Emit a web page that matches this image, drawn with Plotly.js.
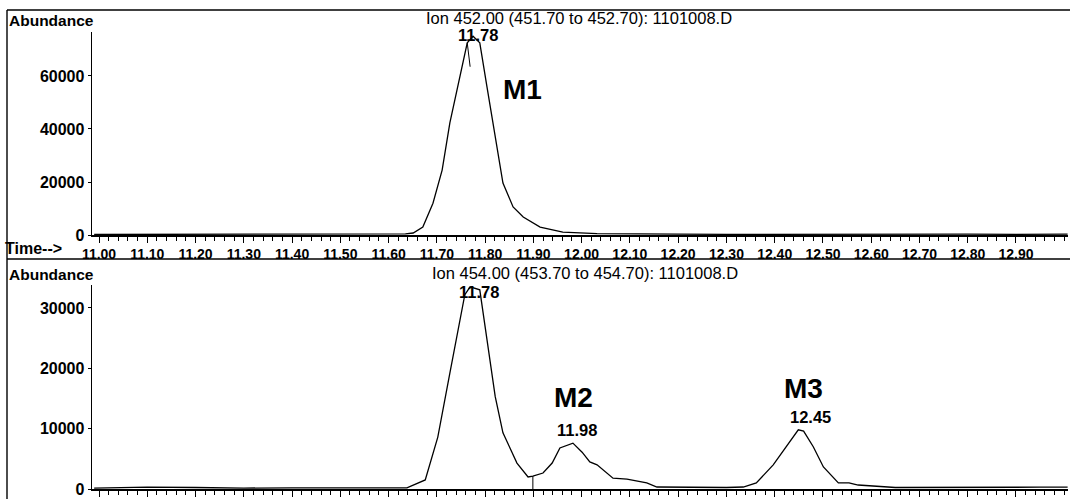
<!DOCTYPE html>
<html>
<head>
<meta charset="utf-8">
<script src="https://cdn.plot.ly/plotly-3.0.1.min.js"></script>
<style>
html,body{margin:0;padding:0;background:#fff;}
#chart{width:1070px;height:499px;}
</style>
</head>
<body>
<div id="chart"></div>
<script>
// ---- data ----
var topTime = [10.99, 11.10, 11.20, 11.30, 11.40, 11.50, 11.60, 11.635, 11.651, 11.671, 11.692, 11.711, 11.727, 11.748, 11.763, 11.775, 11.789, 11.804, 11.821, 11.837, 11.858, 11.879, 11.914, 11.961, 12.032, 12.10, 12.20, 12.30, 12.40, 12.50, 12.60, 12.70, 12.80, 12.90, 13.007];
var topAbund = [200, 250, 200, 300, 250, 200, 300, 400, 750, 3000, 12000, 24500, 42300, 59600, 72500, 75000, 72500, 55800, 37000, 19600, 10600, 6800, 3000, 1100, 500, 350, 300, 250, 300, 250, 300, 250, 300, 250, 300];

var botTime = [10.99, 11.10, 11.20, 11.30, 11.40, 11.50, 11.60, 11.638, 11.676, 11.702, 11.727, 11.748, 11.758, 11.769, 11.789, 11.804, 11.821, 11.837, 11.866, 11.889, 11.899, 11.920, 11.939, 11.955, 11.982, 12.001, 12.017, 12.032, 12.065, 12.094, 12.135, 12.156, 12.20, 12.25, 12.30, 12.335, 12.362, 12.397, 12.424, 12.449, 12.460, 12.480, 12.501, 12.532, 12.554, 12.573, 12.65, 12.75, 12.85, 12.95, 13.007];
var botAbund = [150, 300, 250, 150, 200, 150, 100, 170, 1500, 8600, 19200, 28000, 32200, 33500, 33000, 24700, 15300, 9300, 4300, 2000, 2150, 2650, 4300, 6800, 7600, 6100, 4500, 4000, 1800, 1650, 1000, 330, 300, 200, 250, 330, 1000, 4000, 7000, 9800, 9600, 7000, 3650, 1000, 1000, 660, 250, 300, 250, 300, 300];

var xTickVals = [11.0, 11.1, 11.2, 11.3, 11.4, 11.5, 11.6, 11.7, 11.8, 11.9, 12.0, 12.1, 12.2, 12.3, 12.4, 12.5, 12.6, 12.7, 12.8, 12.9];
var topTickLabels = ['11.00','11.10','11.20','11.30','11.40','11.50','11.60','11.70','11.80','11.90','12.00','12.10','12.20','12.30','12.40','12.50','12.60','12.70','12.80','12.90'];
var botTickLabels = ['','','','','','','','','','11.90','12.00','12.10','12.20','12.30','12.40','12.50','12.60','12.70','12.80','12.90'];
var topYTicks = [0, 20000, 40000, 60000];
var botYTicks = [0, 10000, 20000, 30000];

var topTitle = 'Ion 452.00 (451.70 to 452.70): 1101008.D';
var botTitle = 'Ion 454.00 (453.70 to 454.70): 1101008.D';
var peakTop = {label: '11.78', name: 'M1'};
var peaksBot = [
  {label: '11.78'},
  {label: '11.98', name: 'M2'},
  {label: '12.45', name: 'M3'}
];
var dropLineTime = 11.899, dropLineAbund = 2150;
var apexMarkTime = [11.763, 11.769], apexMarkAbund = [72500, 63500];

// ---- geometry helpers (pixels -> paper) ----
var W = 1070, H = 499;
function px(x){ return x / W; }
function py(y){ return 1 - y / H; }

var FONT = 'Liberation Sans, Arial, sans-serif';
var lineStyle = {color: '#000', width: 1.3, shape: 'linear'};

var traces = [
  {x: topTime, y: topAbund, type: 'scatter', mode: 'lines', line: lineStyle, xaxis: 'x', yaxis: 'y', hoverinfo: 'x+y'},
  {x: botTime, y: botAbund, type: 'scatter', mode: 'lines', line: lineStyle, xaxis: 'x2', yaxis: 'y2', hoverinfo: 'x+y'}
];

var xRange = [10.9855, 13.0078];
function xAxis(labels, anchor){
  return {
    domain: [px(92), px(1068)], range: xRange, anchor: anchor,
    tickmode: 'array', tickvals: xTickVals, ticktext: labels,
    ticks: 'outside', ticklen: 6, tickwidth: 1, tickcolor: '#000',
    minor: {dtick: 0.02, tick0: 11, ticks: 'outside', ticklen: 4, tickwidth: 1, tickcolor: '#000', showgrid: false},
    showline: true, linecolor: '#000', linewidth: 1.6,
    showgrid: false, zeroline: false,
    tickfont: {family: FONT, size: 14, color: '#000', weight: 'bold'},
    fixedrange: true
  };
}
function yAxis(domainPx, range, vals, anchor){
  return {
    domain: [py(domainPx[1]), py(domainPx[0])], range: range, anchor: anchor,
    tickmode: 'array', tickvals: vals, ticktext: vals.map(String),
    ticks: 'outside', ticklen: 3, tickwidth: 1, tickcolor: '#000',
    showline: true, linecolor: '#000', linewidth: 1.4,
    showgrid: false, zeroline: false,
    tickfont: {family: FONT, size: 16, color: '#000', weight: 'bold'},
    fixedrange: true
  };
}

function ann(text, x, y, size, bold, xanchor){
  return {
    xref: 'paper', yref: 'paper', x: px(x), y: py(y), text: text, showarrow: false,
    xanchor: xanchor || 'center', yanchor: 'middle',
    font: {family: FONT, size: size, color: '#000', weight: bold ? 'bold' : 'normal'}
  };
}

var annotations = [
  ann('Abundance', 7, 20, 15.5, true, 'left'),
  ann(topTitle, 579, 18, 16.5, false),
  ann(peakTop.label, 478, 35, 16.5, true),
  ann(peakTop.name, 522, 90, 28, true),
  ann('Time-->', 3, 249, 16, true, 'left'),
  ann('Abundance', 7, 274, 15.5, true, 'left'),
  ann(botTitle, 585, 273, 16.5, false),
  ann(peaksBot[0].label, 479, 292, 16.5, true),
  ann(peaksBot[1].name, 573, 397, 28, true),
  ann(peaksBot[1].label, 577, 430, 16.5, true),
  ann(peaksBot[2].name, 803, 388, 28, true),
  ann(peaksBot[2].label, 810, 417, 16.5, true)
];

var shapes = [
  {type: 'line', xref: 'paper', yref: 'paper', x0: px(7), x1: 1, y0: py(10), y1: py(10), line: {color: '#000', width: 1.6}},
  {type: 'line', xref: 'paper', yref: 'paper', x0: px(7), x1: px(7), y0: py(10), y1: 0, line: {color: '#000', width: 1.4}},
  {type: 'line', xref: 'paper', yref: 'paper', x0: px(7), x1: 1, y0: py(259), y1: py(259), line: {color: '#000', width: 1.6}},
  {type: 'line', xref: 'x2', yref: 'y2', x0: dropLineTime, x1: dropLineTime, y0: 0, y1: dropLineAbund, line: {color: '#000', width: 1}},
  {type: 'line', xref: 'x', yref: 'y', x0: apexMarkTime[0], x1: apexMarkTime[1], y0: apexMarkAbund[0], y1: apexMarkAbund[1], line: {color: '#000', width: 1}}
];

var layout = {
  width: W, height: H,
  margin: {l: 0, r: 0, t: 0, b: 0, pad: 0},
  paper_bgcolor: '#fff', plot_bgcolor: 'rgba(0,0,0,0)',
  showlegend: false,
  xaxis: xAxis(topTickLabels, 'y'),
  yaxis: yAxis([32, 235], [0, 76600], topYTicks, 'x'),
  xaxis2: xAxis(botTickLabels, 'y2'),
  yaxis2: yAxis([285, 489], [0, 33800], botYTicks, 'x2'),
  annotations: annotations,
  shapes: shapes
};

Plotly.newPlot('chart', traces, layout, {displayModeBar: false, staticPlot: true});
</script>
</body>
</html>
